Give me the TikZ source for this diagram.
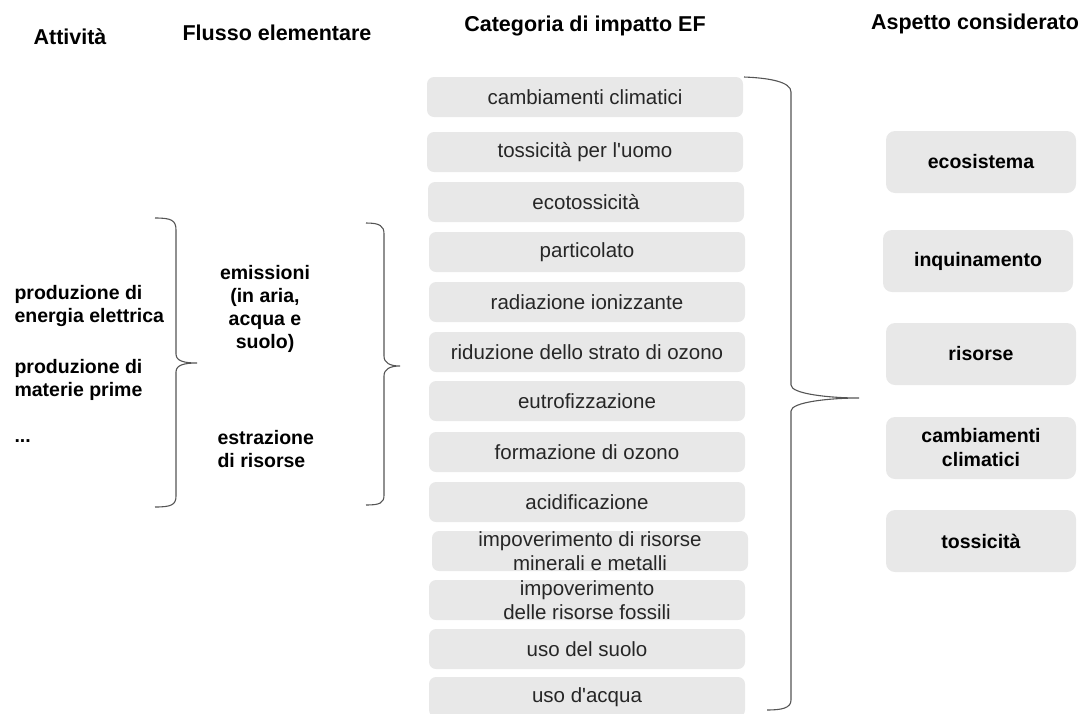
\documentclass[tikz,border=0pt]{standalone}
\usepackage{fontspec}
\setmainfont{Liberation Sans}
\usepackage{tikz}
\usetikzlibrary{positioning}

\definecolor{boxgray}{HTML}{E8E8E8}
\definecolor{bracegray}{HTML}{555555}
\definecolor{txtgray}{HTML}{262626}

\begin{document}
\begin{tikzpicture}[x=1pt,y=-1pt,
  hdr/.style={font=\fontsize{21.5}{24}\selectfont\bfseries},
  bold/.style={font=\fontsize{19.5}{23}\selectfont\bfseries},
  cat/.style={fill=boxgray,rounded corners=7pt,minimum width=316pt,minimum height=40pt,
    inner ysep=0pt,align=center,text=txtgray,font=\fontsize{20.5}{23.5}\selectfont},
  aspect/.style={fill=boxgray,rounded corners=9pt,minimum width=190pt,minimum height=62pt,
    align=center,font=\fontsize{19.5}{24}\selectfont\bfseries},
  brace/.style={draw=bracegray,line width=1.1pt}]
\useasboundingbox (0,0) rectangle (1086,713);

% titoli
\node[hdr] (tatt) at (70,37) {Attività};
\node[hdr] (tflu) at (277,33) {Flusso elementare};
\node[hdr] (tcat) at (585,26) {Categoria di impatto EF};
\node[hdr] (tasp) at (975,24) {Aspetto considerato};

% attivita
\node[bold,anchor=west,align=left] (att1) at (11,306) {produzione di\\energia elettrica};
\node[bold,anchor=west,align=left] (att2) at (11,380) {produzione di\\materie prime};
\node[bold,anchor=west] (att3) at (11,441) {...};

% flussi
\node[bold,align=center] (emi) at (265,309) {emissioni\\(in aria,\\acqua e\\suolo)};
\node[bold,anchor=west,align=left] (est) at (214,449) {estrazione\\di risorse};

% categorie
\node[cat] (c1) at (585,97) {cambiamenti climatici};
\node[cat] (c2) at (585,152) {tossicità per l\textquotesingle uomo};
\node[cat] (c3) at (586,202) {ecotossicità};
\node[cat] (c4) at (587,252) {particolato};
\node[cat] (c5) at (587,302) {radiazione ionizzante};
\node[cat] (c6) at (587,352) {riduzione dello strato di ozono};
\node[cat] (c7) at (587,401) {eutrofizzazione};
\node[cat] (c8) at (587,452) {formazione di ozono};
\node[cat] (c9) at (587,502) {acidificazione};
\node[cat] (c10) at (590,551) {impoverimento di risorse\\minerali e metalli};
\node[cat] (c11) at (587,600) {impoverimento\\delle risorse fossili};
\node[cat] (c12) at (587,649) {uso del suolo};
\node[cat] (c13) at (587,697) {uso d\textquotesingle acqua};

% aspetti
\node[aspect] (a1) at (981,162) {ecosistema};
\node[aspect] (a2) at (978,261) {inquinamento};
\node[aspect] (a3) at (981,354) {risorse};
\node[aspect] (a4) at (981,448) {cambiamenti\\climatici};
\node[aspect] (a5) at (981,541) {tossicità};

% parentesi
\draw[brace] (155,218) .. controls (171,218) and (176,220) .. (176,230) -- (176,354)
  .. controls (176,361) and (184,363) .. (197,363) .. controls (184,363) and (176,365) .. (176,372)
  -- (176,496) .. controls (176,505) and (171,507) .. (155,507);
\draw[brace] (366,223) .. controls (380,223) and (384,226) .. (384,234) -- (384,356)
  .. controls (384,363) and (390,366) .. (400,366) .. controls (390,366) and (384,369) .. (384,376)
  -- (384,495) .. controls (384,503) and (380,505) .. (366,505);
\draw[brace] (744,77) .. controls (770,78) and (791,82) .. (791,92) -- (791,385)
  .. controls (791,394) and (830,398) .. (859,398) .. controls (830,398) and (791,402) .. (791,411)
  -- (791,700) .. controls (791,708) and (782,710) .. (767,710);
\end{tikzpicture}
\end{document}
